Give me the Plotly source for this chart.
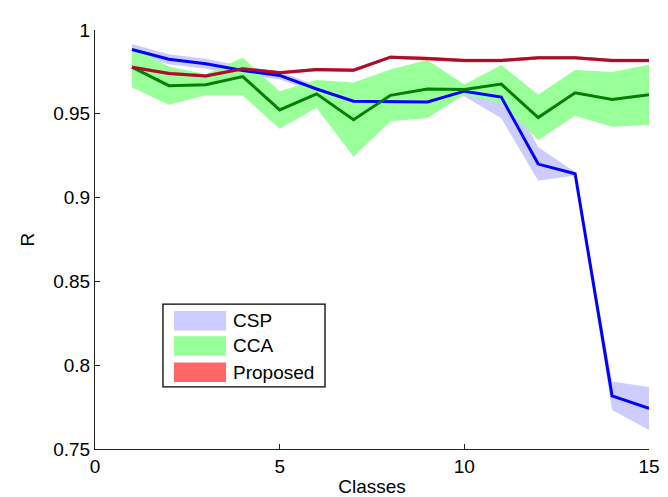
import plotly.graph_objects as go

classes = list(range(1, 16))

csp_mean = [0.9884, 0.9826, 0.9799, 0.9758, 0.9729, 0.9648, 0.9575, 0.9575, 0.9571,
            0.9635, 0.9600, 0.9200, 0.9142, 0.7817, 0.7742]
csp_std = [0.0032, 0.0030, 0.0030, 0.0025, 0.0025, 0.0020, 0.0012, 0.0010, 0.0010,
           0.0030, 0.0126, 0.0100, 0.0010, 0.0085, 0.0128]

cca_mean = [0.9778, 0.9668, 0.9673, 0.9722, 0.9523, 0.9619, 0.9465, 0.9610, 0.9648,
            0.9645, 0.9677, 0.9478, 0.9625, 0.9586, 0.9613]
cca_std = [0.0120, 0.0114, 0.0063, 0.0113, 0.0112, 0.0083, 0.0222, 0.0155, 0.0173,
           0.0030, 0.0114, 0.0135, 0.0136, 0.0163, 0.0180]

prop_mean = [0.9778, 0.9741, 0.9726, 0.9768, 0.9745, 0.9764, 0.9760, 0.9838, 0.9830,
             0.9818, 0.9818, 0.9834, 0.9834, 0.9818, 0.9818]
prop_std = [0.0010] * 15

names = ["CSP", "CCA", "Proposed"]
band_colors = ["#CCCCFF", "#99FF99", "#FF6666"]
line_colors = ["#0000FF", "#007F00", "#A3112F"]
series = [(csp_mean, csp_std), (cca_mean, cca_std), (prop_mean, prop_std)]

FONT = "Liberation Sans, Arial, Helvetica, sans-serif"
FS = 19

fig = go.Figure()

# shaded bands
for (m, s), c, n in zip(series, band_colors, names):
    upper = [a + b for a, b in zip(m, s)]
    lower = [a - b for a, b in zip(m, s)]
    fig.add_trace(go.Scatter(
        x=classes + classes[::-1],
        y=upper + lower[::-1],
        fill="toself", fillcolor=c, line=dict(width=0, color=c),
        mode="lines", name=n, showlegend=False, hoverinfo="skip"))

# mean lines
for (m, s), c, n in zip(series, line_colors, names):
    fig.add_trace(go.Scatter(
        x=classes, y=m, mode="lines", line=dict(color=c, width=3),
        name=n, showlegend=False))

# manual legend (patch style like the reference)
box = dict(x0=0.1227, x1=0.4152, y0=0.1485, y1=0.3457)
fig.add_shape(type="rect", xref="paper", yref="paper", **box,
              line=dict(color="black", width=1.3), fillcolor="white", layer="above")
rows = [(0.3295, 0.2831, 0.3063), (0.2691, 0.2227, 0.2459), (0.2065, 0.1601, 0.1833)]
for (top, bot, mid), c, n in zip(rows, band_colors, names):
    fig.add_shape(type="rect", xref="paper", yref="paper",
                  x0=0.1426, x1=0.2365, y0=bot, y1=top,
                  line=dict(width=0), fillcolor=c, layer="above")
    fig.add_annotation(x=0.2449, y=mid, xref="paper", yref="paper",
                       text=n, showarrow=False, xanchor="left", yanchor="middle",
                       font=dict(family=FONT, size=FS, color="black"))

fig.update_layout(
    width=668, height=497,
    margin=dict(l=87, r=27, t=16, b=50),
    plot_bgcolor="white", paper_bgcolor="white",
    font=dict(family=FONT, size=FS, color="black"),
    showlegend=False,
)
fig.update_xaxes(
    range=[0, 15], dtick=5, tick0=0,
    showline=True, linecolor="#222222", linewidth=1,
    ticks="inside", ticklen=5, tickcolor="#222222",
    showgrid=False, zeroline=False,
    title=dict(text="Classes", standoff=3, font=dict(size=FS)),
)
fig.update_yaxes(
    range=[0.75, 1], dtick=0.05, tick0=0.75,
    showline=True, linecolor="#222222", linewidth=1,
    ticks="inside", ticklen=5, tickcolor="#222222",
    showgrid=False, zeroline=False,
    title=dict(text="R", standoff=13, font=dict(size=FS)),
)

fig.write_html("out.html")
